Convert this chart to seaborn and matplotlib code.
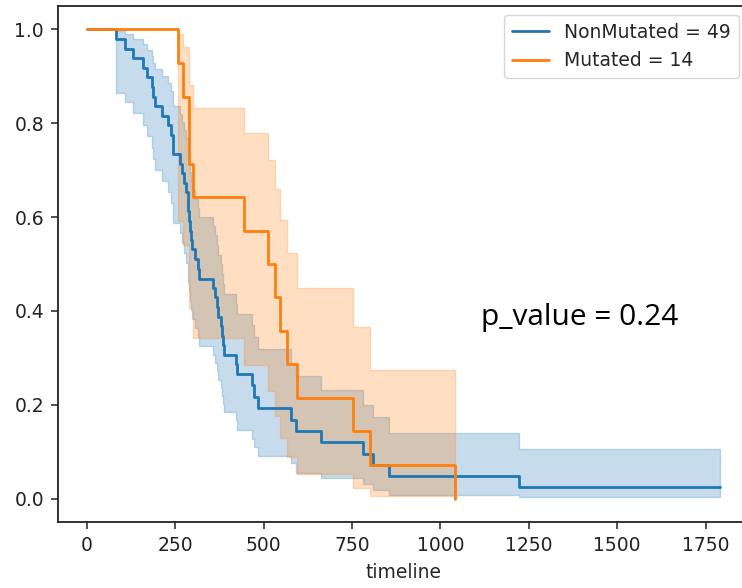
import matplotlib
matplotlib.use("Agg")
import matplotlib.pyplot as plt
import pandas as pd
import seaborn as sns

# Kaplan-Meier steps (timeline, survival, CI)
blue_label = "NonMutated = 49"
blue_t = [0, 82, 107, 129, 159, 169, 184, 188, 193, 211,
          230, 237, 244, 263, 268, 275, 280, 285, 287, 290,
          292, 295, 298, 306, 313, 316, 356, 363, 368, 372,
          378, 381, 384, 388, 421, 425, 466, 472, 484, 576,
          591, 661, 781, 808, 855, 1222, 1790]
blue_s = [1.0, .980, .959, .939, .918, .898, .878, .857, .837, .816,
          .796, .776, .735, .714, .694, .673, .653, .633, .612, .592,
          .571, .551, .531, .510, .490, .469, .449, .429, .408, .388,
          .367, .347, .327, .306, .286, .265, .241, .216, .192, .168,
          .144, .120, .096, .072, .048, .024, .024]
blue_lo = [1.0, .864, .846, .822, .797, .772, .748, .724, .700, .677,
           .654, .631, .587, .566, .544, .523, .503, .482, .462, .442,
           .422, .402, .383, .364, .345, .326, .307, .289, .271, .253,
           .236, .218, .201, .184, .168, .147, .126, .109, .090, .076,
           .055, .044, .030, .018, .0085, .003, .003]
blue_hi = [1.0, .997, .990, .980, .969, .956, .943, .929, .915, .900,
           .885, .869, .836, .820, .803, .786, .768, .750, .732, .714,
           .696, .677, .658, .639, .620, .600, .581, .561, .541, .520,
           .500, .479, .458, .436, .415, .393, .370, .345, .318, .290,
           .262, .232, .200, .173, .139, .106, .106]

org_label = "Mutated = 14"
org_t = [0, 258, 272, 290, 301, 444, 513, 533, 545, 567, 595, 753, 801, 1040]
org_s = [1.0, .929, .857, .714, .643, .571, .500, .429, .357, .286, .214, .143, .071, 0.0]
org_lo = [1.0, .591, .540, .406, .343, .284, .229, .177, .130, .088, .052, .023, .0045, .0045]
org_hi = [1.0, .990, .962, .882, .833, .780, .722, .660, .594, .524, .448, .366, .275, .275]

p_text = "p_value = 0.24"

sns.set_style("ticks")
plt.rcParams["font.family"] = ["DejaVu Sans"]
plt.rcParams["font.size"] = 13.5

df = pd.concat([
    pd.DataFrame({"timeline": blue_t, "survival": blue_s, "group": blue_label}),
    pd.DataFrame({"timeline": org_t, "survival": org_s, "group": org_label}),
])
colors = {blue_label: "#1f77b4", org_label: "#ff7f0e"}

fig = plt.figure(figsize=(7.42, 5.88), dpi=100)
ax = fig.add_axes([58 / 742, 66 / 588, 690 / 742, 516 / 588])

sns.lineplot(data=df, x="timeline", y="survival", hue="group", palette=colors,
             estimator=None, sort=False, drawstyle="steps-post", lw=2.0, ax=ax)

ax.fill_between(blue_t, blue_lo, blue_hi, step="post", color=colors[blue_label],
                alpha=0.25, lw=1.0)
ax.fill_between(org_t, org_lo, org_hi, step="post", color=colors[org_label],
                alpha=0.25, lw=1.0)

ax.set_xlim(-82, 1870)
ax.set_ylim(-0.05, 1.05)
ax.set_xticks([0, 250, 500, 750, 1000, 1250, 1500, 1750])
ax.set_yticks([0.0, 0.2, 0.4, 0.6, 0.8, 1.0])
ax.set_xlabel("timeline", fontsize=13.5, labelpad=6)
ax.set_ylabel("")
ax.tick_params(length=5, width=1.1, labelsize=13.5, pad=5, colors="#222222")
for sp in ax.spines.values():
    sp.set_linewidth(1.3)
    sp.set_color("#222222")

handles, labels = ax.get_legend_handles_labels()
ax.legend(handles, labels, loc="upper right", fontsize=13.5, frameon=True,
          borderaxespad=0.5)

# p-value annotation placed in figure coordinates
fig.text(481 / 742, 1 - 318 / 588, p_text, fontsize=21.5, family="Open Sans",
         color="black", va="center", ha="left")

fig.savefig("out.png", dpi=100)
